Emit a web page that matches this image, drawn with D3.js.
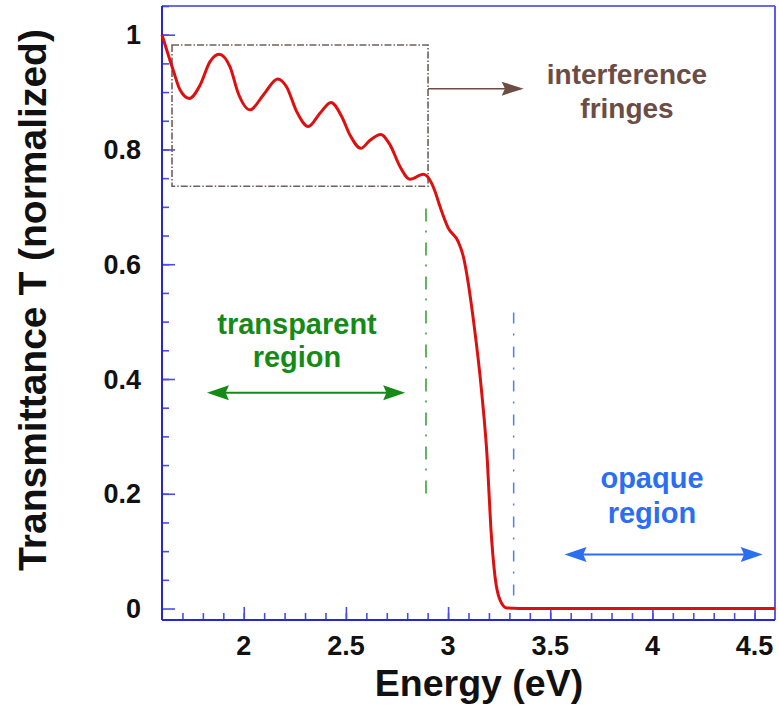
<!DOCTYPE html>
<html>
<head>
<meta charset="utf-8">
<script src="https://cdn.jsdelivr.net/npm/d3@7"></script>
<style>
  html, body { margin: 0; padding: 0; background: #fff; }
  svg text { font-family: "Liberation Sans", Arial, Helvetica, sans-serif; font-weight: bold; }
</style>
</head>
<body>
<svg id="chart" width="779" height="707"></svg>
<script>
// Measured optical transmittance spectrum (photon energy in eV, normalized T)
const energy = [
  1.60, 1.655, 1.688, 1.734, 1.786, 1.835, 1.879, 1.933, 1.973, 2.031,
  2.096, 2.166, 2.210, 2.259, 2.316, 2.373, 2.427, 2.480, 2.520, 2.573,
  2.618, 2.670, 2.716, 2.765, 2.814, 2.879, 2.920, 2.935, 2.961, 3.001,
  3.050, 3.075, 3.091, 3.124, 3.165, 3.192, 3.209, 3.230, 3.254, 3.287,
  3.40, 3.70, 4.00, 4.30, 4.60
];
const transmittance = [
  1.000, 0.938, 0.904, 0.889, 0.912, 0.953, 0.966, 0.944, 0.898, 0.869,
  0.895, 0.923, 0.909, 0.866, 0.840, 0.863, 0.882, 0.857, 0.825, 0.802,
  0.816, 0.826, 0.808, 0.770, 0.748, 0.757, 0.741, 0.728, 0.700, 0.663,
  0.639, 0.613, 0.584, 0.503, 0.375, 0.259, 0.143, 0.055, 0.015, 0.001,
  0.000, 0.000, 0.000, 0.000, 0.000
];

const xTickLabels = [2, 2.5, 3, 3.5, 4, 4.5];
const yTickLabels = [0, 0.2, 0.4, 0.6, 0.8, 1];

// Annotation geometry in data units
const fringeBox = [1.649, 2.902, 0.736, 0.982];   // E0, E1, T0, T1
const fringeArrow = [2.902, 3.37, 0.906];         // E0, E1, T
const transparentArrow = [1.82, 2.79, 0.376];     // E0, E1, T
const opaqueArrow = [3.57, 4.54, 0.094];          // E0, E1, T
const bandEdgeLines = [[2.892, 0.194, 0.697], [3.321, 0.011, 0.516]]; // E, T0, T1

const svg = d3.select("#chart");
const plotLeft = 162, plotRight = 775, plotTop = 6, plotBottom = 620;

const x = d3.scaleLinear().domain([1.6, 4.6]).range([plotLeft, plotRight]);
const y = d3.scaleLinear().domain([-0.02, 1.05]).range([plotBottom, plotTop]);

const axisBlue = "#2626d4";
const tickBlue = "#4b4be6";

// frame
svg.append("line").attr("x1", plotLeft).attr("x2", plotRight).attr("y1", plotTop).attr("y2", plotTop)
  .attr("stroke", "#6a6aec").attr("stroke-width", 2);
svg.append("line").attr("x1", plotRight).attr("x2", plotRight).attr("y1", plotTop).attr("y2", plotBottom)
  .attr("stroke", "#5c5ce8").attr("stroke-width", 2);

// minor + major ticks drawn inward
const xMinor = d3.range(1.7, 4.6, 0.1).map(v => +v.toFixed(2));
const yMinor = d3.range(0.05, 1.06, 0.05).map(v => +v.toFixed(2));

const xAxisMinor = d3.axisTop(x).tickValues(xMinor).tickSize(7).tickFormat("");
const xAxisMajor = d3.axisTop(x).tickValues(xTickLabels).tickSize(13).tickFormat("");
const yAxisMinor = d3.axisRight(y).tickValues(yMinor).tickSize(7).tickFormat("");
const yAxisMajor = d3.axisRight(y).tickValues(yTickLabels).tickSize(13).tickFormat("");

function styleAxis(g) {
  g.select(".domain").remove();
  g.selectAll(".tick line").attr("stroke", tickBlue).attr("stroke-width", 1.6);
}
svg.append("g").attr("transform", `translate(0,${plotBottom})`).call(xAxisMinor).call(styleAxis);
svg.append("g").attr("transform", `translate(0,${plotBottom})`).call(xAxisMajor).call(styleAxis);
svg.append("g").attr("transform", `translate(${plotLeft},0)`).call(yAxisMinor).call(styleAxis);
svg.append("g").attr("transform", `translate(${plotLeft},0)`).call(yAxisMajor).call(styleAxis);

// tick labels
svg.append("g").selectAll("text").data(xTickLabels).join("text")
  .attr("x", d => x(d)).attr("y", 655)
  .attr("text-anchor", "middle").attr("font-size", 27).attr("fill", "#111")
  .text(d => d);
svg.append("g").selectAll("text").data(yTickLabels).join("text")
  .attr("x", 141).attr("y", d => y(d)).attr("dy", "0.36em")
  .attr("text-anchor", "end").attr("font-size", 27).attr("fill", "#111")
  .text(d => d);

// axis lines (left and bottom)
svg.append("line").attr("x1", plotLeft).attr("x2", plotLeft).attr("y1", plotTop).attr("y2", plotBottom)
  .attr("stroke", axisBlue).attr("stroke-width", 2);
svg.append("line").attr("x1", plotLeft).attr("x2", plotRight).attr("y1", plotBottom).attr("y2", plotBottom)
  .attr("stroke", axisBlue).attr("stroke-width", 2);

// axis titles
svg.append("text").attr("x", 479).attr("y", 696).attr("text-anchor", "middle")
  .attr("font-size", 37.5).attr("fill", "#111").text("Energy (eV)");
svg.append("text").attr("transform", "translate(46,300) rotate(-90)")
  .attr("text-anchor", "middle").attr("font-size", 39).attr("fill", "#111")
  .text("Transmittance T (normalized)");

// arrowhead helper: tip at (tx,ty), pointing in direction dir (+1 right, -1 left)
function arrowHead(g, tx, ty, dir, len, half, color) {
  const p = d3.path();
  p.moveTo(tx, ty);
  p.lineTo(tx - dir * len, ty - half);
  p.lineTo(tx - dir * len * 0.85, ty);
  p.lineTo(tx - dir * len, ty + half);
  p.closePath();
  g.append("path").attr("d", p.toString()).attr("fill", color);
}

// interference-fringe box
const brown = "#6b4d46";
svg.append("rect")
  .attr("x", x(fringeBox[0])).attr("y", y(fringeBox[3]))
  .attr("width", x(fringeBox[1]) - x(fringeBox[0]))
  .attr("height", y(fringeBox[2]) - y(fringeBox[3]))
  .attr("fill", "none").attr("stroke", "#6e605c").attr("stroke-width", 1.6)
  .attr("stroke-dasharray", "7,2,1.5,2");

const fa = svg.append("g");
fa.append("line").attr("x1", x(fringeArrow[0])).attr("x2", x(fringeArrow[1]) - 10)
  .attr("y1", y(fringeArrow[2])).attr("y2", y(fringeArrow[2]))
  .attr("stroke", brown).attr("stroke-width", 1.5);
arrowHead(fa, x(fringeArrow[1]), y(fringeArrow[2]), 1, 22, 7, brown);

svg.append("text").attr("x", 627).attr("y", 84).attr("text-anchor", "middle")
  .attr("font-size", 28).attr("fill", brown).text("interference");
svg.append("text").attr("x", 627).attr("y", 118).attr("text-anchor", "middle")
  .attr("font-size", 28).attr("fill", brown).text("fringes");

// band-edge markers
const edgeColors = ["#2f9a2f", "#4a7ff0"];
const edgeDash = ["13,9,2,10", "11,10,2,11"];
bandEdgeLines.forEach((d, i) => {
  svg.append("line").attr("x1", x(d[0])).attr("x2", x(d[0]))
    .attr("y1", y(d[2])).attr("y2", y(d[1]))
    .attr("stroke", edgeColors[i]).attr("stroke-width", 1.5)
    .attr("stroke-dasharray", edgeDash[i]);
});

// transparent region
const green = "#168a16";
const ta = svg.append("g");
ta.append("line").attr("x1", x(transparentArrow[0]) + 15).attr("x2", x(transparentArrow[1]) - 15)
  .attr("y1", y(transparentArrow[2])).attr("y2", y(transparentArrow[2]))
  .attr("stroke", green).attr("stroke-width", 2);
arrowHead(ta, x(transparentArrow[0]), y(transparentArrow[2]), -1, 22, 7.5, green);
arrowHead(ta, x(transparentArrow[1]), y(transparentArrow[2]), 1, 22, 7.5, green);
svg.append("text").attr("x", 297).attr("y", 334).attr("text-anchor", "middle")
  .attr("font-size", 29).attr("fill", green).text("transparent");
svg.append("text").attr("x", 297).attr("y", 367).attr("text-anchor", "middle")
  .attr("font-size", 29).attr("fill", green).text("region");

// opaque region
const blue = "#2a6ef2";
const oa = svg.append("g");
oa.append("line").attr("x1", x(opaqueArrow[0]) + 15).attr("x2", x(opaqueArrow[1]) - 15)
  .attr("y1", y(opaqueArrow[2])).attr("y2", y(opaqueArrow[2]))
  .attr("stroke", blue).attr("stroke-width", 2);
arrowHead(oa, x(opaqueArrow[0]), y(opaqueArrow[2]), -1, 22, 7.5, blue);
arrowHead(oa, x(opaqueArrow[1]), y(opaqueArrow[2]), 1, 22, 7.5, blue);
svg.append("text").attr("x", 652).attr("y", 488).attr("text-anchor", "middle")
  .attr("font-size", 29).attr("fill", blue).text("opaque");
svg.append("text").attr("x", 652).attr("y", 523).attr("text-anchor", "middle")
  .attr("font-size", 29).attr("fill", blue).text("region");

// transmittance curve
const pts = energy.map((e, i) => [e, transmittance[i]]);
const line = d3.line().x(d => x(d[0])).y(d => y(d[1])).curve(d3.curveMonotoneX);
svg.append("path").datum(pts).attr("d", line)
  .attr("fill", "none").attr("stroke", "#dd1010").attr("stroke-width", 3)
  .attr("stroke-linejoin", "round");
</script>
</body>
</html>
